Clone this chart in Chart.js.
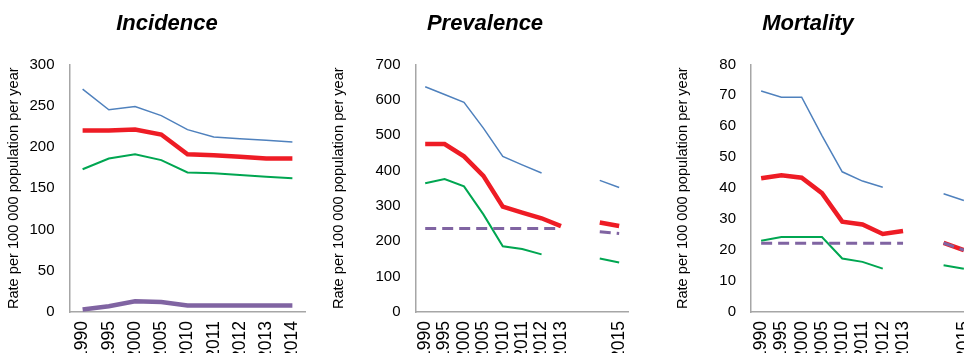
<!DOCTYPE html>
<html>
<head>
<meta charset="utf-8">
<script src="https://cdn.jsdelivr.net/npm/chart.js@4"></script>
<style>
  html, body { margin: 0; padding: 0; background: #fff; width: 964px; height: 353px; overflow: hidden; }
  canvas { position: absolute; top: 0; }
</style>
</head>
<body>
<canvas id="c1" width="334" height="353" style="left:0px"></canvas>
<canvas id="c2" width="330" height="353" style="left:320px"></canvas>
<canvas id="c3" width="382" height="353" style="left:617px"></canvas>
<script>
// ---- Data ----
const incidenceYears = ['1990','1995','2000','2005','2010','2011','2012','2013','2014'];
const incidenceUpper = [270, 245, 249, 238, 221, 212, 210, 208, 206];
const incidenceBest  = [220, 220, 221, 215, 191, 190, 188, 186, 186];
const incidenceLower = [173, 186, 191, 184, 169, 168, 166, 164, 162];
const incidenceHIV   = [3, 7, 13, 12, 8, 8, 8, 8, 8];

const targetYears = ['1990','1995','2000','2005','2010','2011','2012','2013','','','2015'];
const prevalenceUpper  = [637, 615, 593, 520, 440, 416, 393, null, null, 372, 352];
const prevalenceBest   = [475, 475, 440, 385, 298, 281, 265, 243, null, 253, 243];
const prevalenceLower  = [364, 376, 355, 276, 186, 178, 163, null, null, 151, 140];
const prevalenceTarget = [236, 236, 236, 236, 236, 236, 236, 236, null, 227, 222];

const mortalityUpper  = [71.4, 69.4, 69.4, 57, 45.3, 42.3, 40.3, null, null, 38.2, 36];
const mortalityBest   = [43.2, 44.2, 43.4, 38.4, 29.2, 28.3, 25.2, 26.2, null, 22.3, 20];
const mortalityLower  = [23, 24.2, 24.2, 24.2, 17.3, 16.2, 14, null, null, 15.1, 14];
const mortalityTarget = [22.2, 22.2, 22.2, 22.2, 22.2, 22.2, 22.2, 22.2, null, 22.3, 20];

const yAxisTitle = 'Rate per 100 000 population per year';

// ---- Styles ----
const BLUE = '#4F81BD', RED = '#EE1C25', GREEN = '#00A651', PURPLE = '#8064A2';
const FONT = 'Liberation Sans, Arial, sans-serif';
Chart.defaults.font.family = FONT;
Chart.defaults.color = '#000';

function makeChart(id, opt) {
  const datasets = [];
  if (opt.dashed) {
    datasets.push({ data: opt.target, borderColor: PURPLE, borderWidth: 3, borderDash: [11, 6] });
  } else {
    datasets.push({ data: opt.target, borderColor: PURPLE, borderWidth: 4.5 });
  }
  datasets.push({ data: opt.best, borderColor: RED, borderWidth: 4.5 });
  datasets.push({ data: opt.lower, borderColor: GREEN, borderWidth: 2 });
  datasets.push({ data: opt.upper, borderColor: BLUE, borderWidth: 1.5 });
  datasets.forEach(d => { d.pointRadius = 0; d.tension = 0; d.spanGaps = false; d.fill = false; d.yAxisID = 'y'; });

  const scales = {
    x: {
      offset: true,
      grid: { display: false, drawTicks: false },
      border: { display: true, color: '#A6A6A6', width: 1.5 },
      ticks: { autoSkip: false, minRotation: 90, maxRotation: 90, padding: 9, color: '#000', font: { size: 17.5 } },
      afterFit: s => { s.height = 41; }
    },
    y: {
      position: 'left',
      min: 0, max: opt.max,
      grid: { display: false, drawTicks: false },
      border: { display: true, color: '#A6A6A6', width: 1.5 },
      ticks: { stepSize: opt.step, padding: 15, color: '#000', font: { size: 15 } },
      title: { display: true, text: yAxisTitle, color: '#000', font: { size: 14.6 }, padding: { top: opt.titlePad, bottom: 0 } },
      afterFit: s => { s.width = opt.yWidth; }
    },
    yPad: {
      position: 'right', min: 0, max: opt.max,
      grid: { display: false, drawTicks: false },
      border: { display: false },
      ticks: { display: false },
      afterFit: s => { s.width = opt.padRight; }
    }
  };

  new Chart(document.getElementById(id), {
    type: 'line',
    data: { labels: opt.labels, datasets },
    options: {
      responsive: false,
      animation: false,
      devicePixelRatio: 1,
      layout: { padding: 0 },
      plugins: {
        legend: { display: false },
        tooltip: { enabled: false },
        title: {
          display: true, text: opt.title, color: '#000',
          font: { size: 22, weight: 'bold', style: 'italic', family: FONT },
          padding: { top: 11, bottom: 27 }
        }
      },
      scales
    }
  });
}

makeChart('c1', { title: 'Incidence', labels: incidenceYears, upper: incidenceUpper, best: incidenceBest,
  lower: incidenceLower, target: incidenceHIV, dashed: false, max: 300, step: 50, yWidth: 69.5, padRight: 28.5, titlePad: 5.6 });
makeChart('c2', { title: 'Prevalence', labels: targetYears, upper: prevalenceUpper, best: prevalenceBest,
  lower: prevalenceLower, target: prevalenceTarget, dashed: true, max: 700, step: 100, yWidth: 95.5, padRight: 18.5, titlePad: 10.6 });
makeChart('c3', { title: 'Mortality', labels: targetYears, upper: mortalityUpper, best: mortalityBest,
  lower: mortalityLower, target: mortalityTarget, dashed: true, max: 80, step: 10, yWidth: 134, padRight: 25, titlePad: 57.6 });
</script>
</body>
</html>
